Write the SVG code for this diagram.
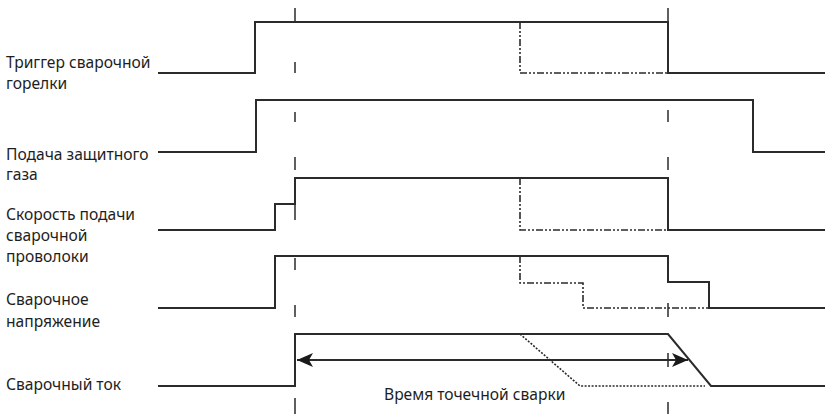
<svg xmlns="http://www.w3.org/2000/svg" width="825" height="414" viewBox="0 0 825 414">
<defs>
<style>
.sig{fill:none;stroke:#2b2b2b;stroke-width:2;stroke-linejoin:miter}
.alt{fill:none;stroke:#2b2b2b;stroke-width:1.6;stroke-dasharray:7 2 2 2 2 2}
.dot{fill:none;stroke:#2b2b2b;stroke-width:1.6;stroke-dasharray:2 1.5}
.guide{fill:none;stroke:#2b2b2b;stroke-width:1.5}
.lbl{font-family:"Noto Sans","DejaVu Sans",sans-serif;font-size:15.6px;fill:#1e1e1e}
</style>
<marker id="ah" viewBox="0 0 16 14" refX="16" refY="7" markerWidth="16" markerHeight="14" markerUnits="userSpaceOnUse" orient="auto-start-reverse">
<path d="M0,0 L16,7 L0,14 L4,7 Z" fill="#1a1a1a"/>
</marker>
</defs>
<rect width="825" height="414" fill="#fff"/>
<g id="guides">
<path class="guide" d="M295,8V22M295,62V73M295,112V122M295,157V170M295,205V220M295,258V270M295,305V317M295,398V414"/>
<path class="guide" d="M668,8V22M668,110V122M668,157V170M668,303V317M668,353V367M668,402V414"/>
</g>
<g id="trigger">
<text class="lbl" x="6" y="68">Триггер сварочной</text>
<text class="lbl" x="6" y="89">горелки</text>
<path class="sig" d="M158,73H255V22H668V73H825"/>
<path class="alt" d="M520,22V73H668"/>
</g>
<g id="gas">
<text class="lbl" x="6" y="160">Подача защитного</text>
<text class="lbl" x="6" y="180">газа</text>
<path class="sig" d="M158,152H256V100H753V152H825"/>
</g>
<g id="wire">
<text class="lbl" x="6" y="220">Скорость подачи</text>
<text class="lbl" x="6" y="241">сварочной</text>
<text class="lbl" x="6" y="262">проволоки</text>
<path class="sig" d="M158,230H275V204H295V178H668V230H825"/>
<path class="alt" d="M520,178V230H668"/>
</g>
<g id="voltage">
<text class="lbl" x="6" y="305">Сварочное</text>
<text class="lbl" x="6" y="327">напряжение</text>
<path class="sig" d="M158,308H275V256H668V282H709V308H825"/>
<path class="alt" d="M520,256V283H583V308H709"/>
</g>
<g id="current">
<text class="lbl" x="6" y="390">Сварочный ток</text>
<path class="sig" d="M158,386H295V334H668L711,386H825"/>
<path class="dot" d="M520,334L580,386H705"/>
</g>
<g id="connectors">
<path class="sig" d="M297,360H688" marker-start="url(#ah)" marker-end="url(#ah)"/>
<text class="lbl" x="384" y="400">Время точечной сварки</text>
</g>
</svg>
